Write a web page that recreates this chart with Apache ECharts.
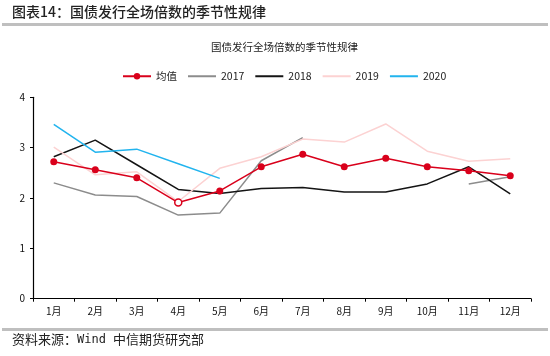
<!DOCTYPE html>
<html><head><meta charset="utf-8">
<script src="https://cdn.jsdelivr.net/npm/echarts@6/dist/echarts.min.js"></script>
<style>html,body{margin:0;padding:0;background:#fff}#c{width:550px;height:356px}</style>
</head><body><div id="c"></div>
<script>
var months = ['1月','2月','3月','4月','5月','6月','7月','8月','9月','10月','11月','12月'];
var avgVals = [2.72,2.56,2.40,1.91,2.14,2.62,2.87,2.62,2.79,2.62,2.54,2.44];
var y2017 = [2.30,2.06,2.03,1.66,1.70,2.74,3.20,null,null,null,2.28,2.42];
var y2018 = [2.82,3.15,2.66,2.17,2.09,2.19,2.21,2.12,2.12,2.28,2.62,2.08];
var y2019 = [3.01,2.46,2.52,1.93,2.59,2.82,3.17,3.11,3.47,2.93,2.73,2.78];
var y2020 = [3.46,2.91,2.97,2.68,2.39,null,null,null,null,null,null,null];
var yTicks = [0,1,2,3,4];
var seriesNames = ['均值','2017','2018','2019','2020'];

var font = '"Noto Sans CJK SC","Noto Sans",sans-serif';
var chart = echarts.init(document.getElementById('c'), null, {renderer:'canvas'});

function line(name, data, color, extra){
  var s = {name:name, type:'line', data:data, symbol:'none', connectNulls:false,
    lineStyle:{color:color, width:1.5}, itemStyle:{color:color}, emphasis:{disabled:true}, animation:false};
  for (var k in extra) s[k]=extra[k];
  return s;
}
var avgData = avgVals.map(function(v,i){
  if (i===3) return {value:v, itemStyle:{color:'#fff', borderColor:'#D9001B', borderWidth:1.5}};
  return v;
});
var legendData = seriesNames.map(function(n,i){
  return i===0 ? {name:n} : {name:n, itemStyle:{opacity:0}};
});

chart.setOption({
  animation:false,
  textStyle:{fontFamily:font},
  title:{text:'国债发行全场倍数的季节性规律', left:206, top:37,
    textStyle:{fontSize:10.5, fontWeight:'normal', color:'#222', fontFamily:font}},
  legend:{data:legendData, left:117, top:66, itemWidth:28, itemHeight:8, itemGap:10,
    textStyle:{fontSize:10.5, color:'#222', fontFamily:font}},
  grid:{left:33, right:19, top:97.3, bottom:57.3, containLabel:false},
  xAxis:{type:'category', data:months, boundaryGap:true,
    axisLine:{lineStyle:{color:'#000', width:1.2}},
    axisTick:{show:true, length:3, lineStyle:{color:'#000'}},
    axisLabel:{fontSize:10, color:'#111', margin:8, fontFamily:font}},
  yAxis:{type:'value', min:yTicks[0], max:yTicks[yTicks.length-1], interval:1,
    axisLine:{show:true, lineStyle:{color:'#000', width:1.2}},
    axisTick:{show:true, length:3, lineStyle:{color:'#000'}},
    splitLine:{show:false},
    axisLabel:{fontSize:10, color:'#111', margin:8, fontFamily:font}},
  series:[
    line(seriesNames[0], avgData, '#D9001B', {symbol:'circle', symbolSize:7, showSymbol:true, z:3}),
    line(seriesNames[1], y2017, '#8C8C8C', {z:2}),
    line(seriesNames[2], y2018, '#141414', {z:2}),
    line(seriesNames[3], y2019, '#FCD2D2', {z:2}),
    line(seriesNames[4], y2020, '#22B4EE', {z:2})
  ],
  graphic:[
    {type:'text', left:12, top:5, style:{text:'图表14：国债发行全场倍数的季节性规律', font:'500 14px '+font, fill:'#222'}},
    {type:'rect', shape:{x:2, y:23, width:546, height:3}, style:{fill:'#BFBFBF'}},
    {type:'rect', shape:{x:2, y:328, width:546, height:3}, style:{fill:'#BFBFBF'}},
    {type:'text', left:12, top:333, style:{
      text:'{a|资料来源：}{b|Wind }{a|中信期货研究部}',
      rich:{a:{fontSize:13, fontFamily:font, fill:'#222'}, b:{fontSize:12, fontFamily:'"DejaVu Sans Mono",monospace', fill:'#222'}}}}
  ]
});
</script></body></html>
